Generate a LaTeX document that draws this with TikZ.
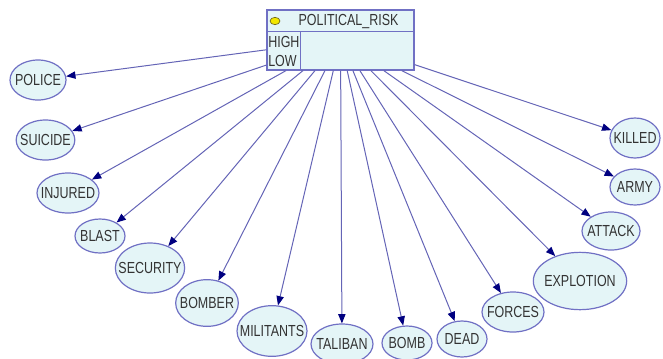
\documentclass[tikz,border=0pt]{standalone}
\usepackage{fontspec}
\setmainfont{Liberation Sans}[FakeStretch=0.78]
\usetikzlibrary{shapes.geometric}
\usetikzlibrary{arrows.meta}

\definecolor{nodefill}{HTML}{E4F5F7}
\definecolor{nodeline}{HTML}{7070C4}
\definecolor{arcline}{HTML}{6464B6}
\definecolor{tipnavy}{HTML}{000080}
\definecolor{dotfill}{HTML}{F2E600}

\tikzset{
  evnode/.style={ellipse, draw=nodeline, fill=nodefill, line width=0.9pt, inner sep=0pt,
    font=\fontsize{12}{12}\selectfont, text=black!80},
  riskbox/.style={draw=nodeline, fill=nodefill, line width=0.9pt, inner sep=0pt},
  statetext/.style={anchor=west, inner sep=0pt, font=\fontsize{12}{12}\selectfont, text=black!80},
  riskarrow/.style={draw=arcline, line width=0.75pt, -{Triangle[length=7pt,width=5.5pt,color=tipnavy]}},
}
\newcommand{\evlabel}[1]{\makebox[0pt]{#1}}

\begin{document}
\begin{tikzpicture}[x=0.75pt, y=-0.75pt]
  \useasboundingbox (0,0) rectangle (663,358);

  % parent node
  \node[riskbox, minimum width=110.25pt, minimum height=45pt] (risk) at (340.5,40) {};
  \draw[nodeline, line width=0.9pt] (risk.north west) ++(0,22) coordinate (rowsplit) -- ++(147,0);
  \draw[nodeline, line width=0.9pt] (rowsplit) ++(34,0) -- ++(0,38);
  \node[ellipse, draw=olive!70!black, fill=dotfill, line width=0.5pt, inner sep=0pt,
    minimum width=7.5pt, minimum height=5.5pt] (riskdot) at (275,21) {};
  \node[inner sep=0pt, font=\fontsize{12}{12}\selectfont, text=black!80] (riskname) at (348.5,21) {POLITICAL\_RISK};
  \node[statetext] (high) at (268,42) {HIGH};
  \node[statetext] (low) at (268,61) {LOW};

  % child nodes
  \node[evnode, minimum width=42pt, minimum height=30pt] (police) at (38,80) {\evlabel{POLICE}};
  \node[evnode, minimum width=44pt, minimum height=30pt] (suicide) at (45.5,140) {\evlabel{SUICIDE}};
  \node[evnode, minimum width=46.5pt, minimum height=30pt] (injured) at (68,193) {\evlabel{INJURED}};
  \node[evnode, minimum width=37.5pt, minimum height=25.5pt] (blast) at (100,236) {\evlabel{BLAST}};
  \node[evnode, minimum width=52pt, minimum height=37.5pt] (security) at (150,268) {\evlabel{SECURITY}};
  \node[evnode, minimum width=47pt, minimum height=35pt] (bomber) at (207,303) {\evlabel{BOMBER}};
  \node[evnode, minimum width=52.5pt, minimum height=38pt] (militants) at (272,331) {\evlabel{MILITANTS}};
  \node[evnode, minimum width=46.5pt, minimum height=30pt] (taliban) at (342,344) {\evlabel{TALIBAN}};
  \node[evnode, minimum width=37.5pt, minimum height=25.5pt] (bomb) at (407,343) {\evlabel{BOMB}};
  \node[evnode, minimum width=37.5pt, minimum height=27pt] (dead) at (462,339) {\evlabel{DEAD}};
  \node[evnode, minimum width=46.5pt, minimum height=30pt] (forces) at (513,312) {\evlabel{FORCES}};
  \node[evnode, minimum width=70pt, minimum height=43pt] (explotion) at (580,281) {\evlabel{EXPLOTION}};
  \node[evnode, minimum width=43.5pt, minimum height=28.5pt] (attack) at (611,231) {\evlabel{ATTACK}};
  \node[evnode, minimum width=37.5pt, minimum height=27pt] (army) at (635,187) {\evlabel{ARMY}};
  \node[evnode, minimum width=37.5pt, minimum height=30pt] (killed) at (635,138) {\evlabel{KILLED}};

  % arcs
  \draw[riskarrow] (risk) -- (police);
  \draw[riskarrow] (risk) -- (suicide);
  \draw[riskarrow] (risk) -- (injured);
  \draw[riskarrow] (risk) -- (blast);
  \draw[riskarrow] (risk) -- (security);
  \draw[riskarrow] (risk) -- (bomber);
  \draw[riskarrow] (risk) -- (militants);
  \draw[riskarrow] (risk) -- (taliban);
  \draw[riskarrow] (risk) -- (bomb);
  \draw[riskarrow] (risk) -- (dead);
  \draw[riskarrow] (risk) -- (forces);
  \draw[riskarrow] (risk) -- (explotion);
  \draw[riskarrow] (risk) -- (attack);
  \draw[riskarrow] (risk) -- (army);
  \draw[riskarrow] (risk) -- (killed);
\end{tikzpicture}
\end{document}
